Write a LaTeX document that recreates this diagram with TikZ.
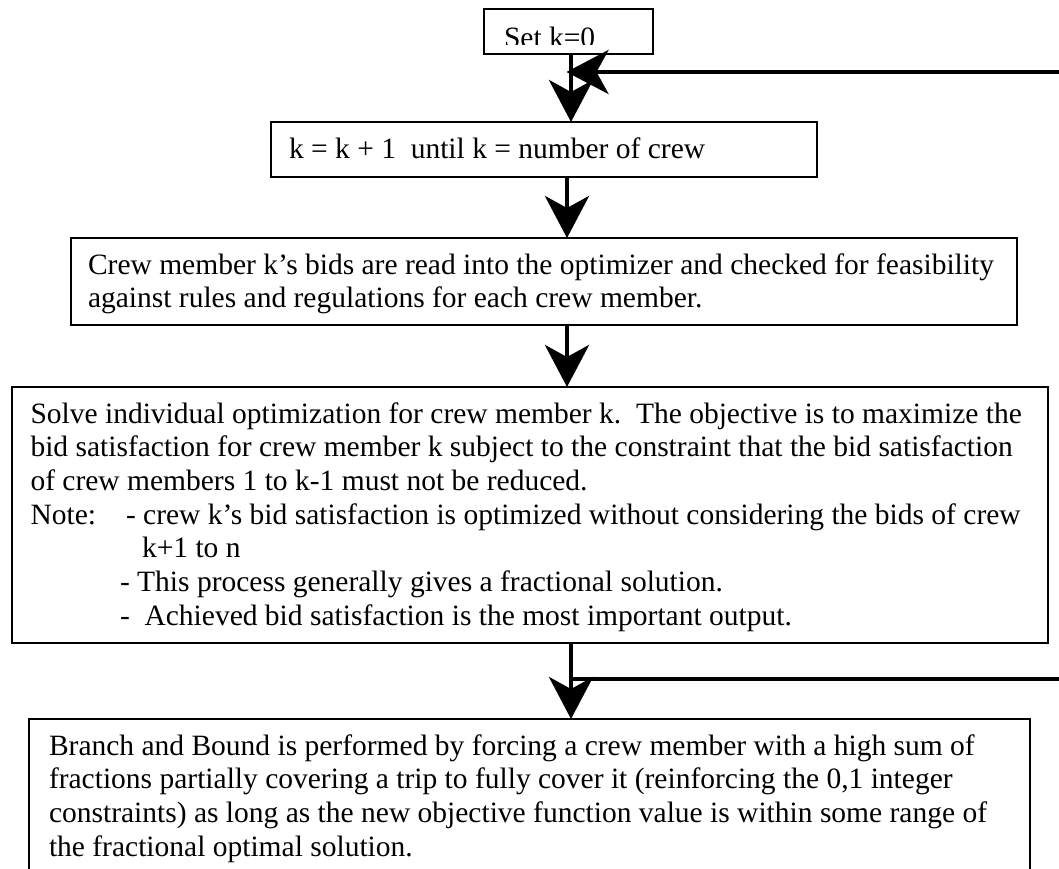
\documentclass[tikz,border=0pt]{standalone}
\usepackage{fontspec}
\setmainfont{Liberation Serif}
\usetikzlibrary{arrows.meta}
\begin{document}
\begin{tikzpicture}[x=1pt,y=-1pt,
  box/.style={draw,line width=1.8pt,inner sep=0pt,outer sep=0pt},
  txt/.style={anchor=base west,inner sep=0pt,outer sep=0pt,font=\fontsize{29.5}{33.7}\selectfont\frenchspacing},
  flow/.style={line width=4.5pt},
  arr/.style={flow,-{Stealth[length=42pt,width=44pt,inset=12pt]}}]
\useasboundingbox (0,0) rectangle (1059,868);
\clip (0,0) rectangle (1059,868);

% boxes
\node[box,minimum width=169pt,minimum height=45pt] (b1) at (568.5,31.5) {};
\node[box,minimum width=546pt,minimum height=55pt] (b2) at (544,149.5) {};
\node[box,minimum width=946pt,minimum height=87pt] (b3) at (544,281.5) {};
\node[box,minimum width=1036pt,minimum height=256pt] (b4) at (530,515) {};
\node[box,minimum width=1001pt,minimum height=153pt] (b5) at (529.5,795.5) {};

% texts
\begin{scope}
  \clip (484,9) rectangle (653,44.5);
  \node[txt] (t1) at (504,47) {Set k=0};
\end{scope}
\node[txt] (t2) at (289,158) {k = k + 1\ \ until k = number of crew};

\node[txt] (t3a) at (88,274) {Crew member k’s bids are read into the optimizer and checked for feasibility};
\node[txt] (t3b) at (88,307.7) {against rules and regulations for each crew member.};

\node[txt] (t4a) at (30.5,423) {Solve individual optimization for crew member k.\ \ The objective is to maximize the};
\node[txt] (t4b) at (30.5,456.7) {bid satisfaction for crew member k subject to the constraint that the bid satisfaction};
\node[txt] (t4c) at (30.5,490.4) {of crew members 1 to k-1 must not be reduced.};
\node[txt] (t4d) at (30.5,524.1) {Note:\hspace{30pt}- crew k’s bid satisfaction is optimized without considering the bids of crew};
\node[txt] (t4e) at (142,557.8) {k+1 to n};
\node[txt] (t4f) at (120,591.5) {- This process generally gives a fractional solution.};
\node[txt] (t4g) at (120,625.2) {-\ \ Achieved bid satisfaction is the most important output.};

\node[txt] (t5a) at (49,755) {Branch and Bound is performed by forcing a crew member with a high sum of};
\node[txt] (t5b) at (49,788.7) {fractions partially covering a trip to fully cover it (reinforcing the 0,1 integer};
\node[txt] (t5c) at (49,822.4) {constraints) as long as the new objective function value is within some range of};
\node[txt] (t5d) at (49,856.1) {the fractional optimal solution.};

% connectors
\coordinate (xA) at (571,0);
\coordinate (xB) at (567,0);
\draw[arr] (b1.south -| xA) -- (b2.north -| xA);
\draw[arr] (b2.south -| xB) -- (b3.north -| xB);
\draw[arr] (b3.south -| xB) -- (b4.north -| xB);
\draw[arr] (b4.south -| xA) -- (b5.north -| xA);
\coordinate (loopin) at (1070,72);
\coordinate (loopend) at (566.5,72);
\draw[arr] (loopin) -- (loopend);
\coordinate (split) at (571,679);
\coordinate (loopout) at (1070,679);
\draw[flow] (split) -- (loopout);
\end{tikzpicture}
\end{document}
